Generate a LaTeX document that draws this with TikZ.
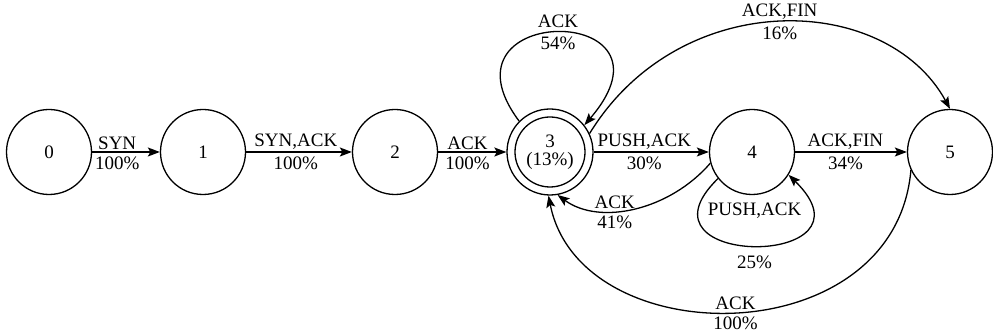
\documentclass[tikz,border=0pt]{standalone}
\usepackage{fontspec}
\setmainfont{Liberation Serif}
\usetikzlibrary{arrows.meta}
\begin{document}
\begin{tikzpicture}[x=1pt,y=1pt,
  state/.style={draw, circle, line width=1.3pt, minimum size=85pt, inner sep=0pt,
    font=\fontsize{19}{18}\selectfont, align=center},
  tr/.style={line width=1.3pt, -{Stealth[length=12pt,width=9pt,inset=2.5pt]}},
  lab/.style={font=\fontsize{19}{19}\selectfont},
  labA/.style={lab, above, inner sep=1.5pt},
  labB/.style={lab, below, inner sep=4pt},
]
\useasboundingbox (0,0) rectangle (993,336);
\node[state] (n0) at (49,184) {0};
\node[state] (n1) at (203,184) {1};
\node[state] (n2) at (395,184) {2};
\node[state, minimum size=86pt] (n3) at (550,184) {3\\(13\%)};
\node[draw, circle, line width=1.3pt, minimum size=70pt, inner sep=0pt] (n3in) at (n3.center) {};
\node[state] (n4) at (752,184) {4};
\node[state] (n5) at (950,184) {5};

\draw[tr] (n0) -- node[labA, pos=.37]{SYN} node[labB, pos=.37]{100\%} (n1);
\draw[tr] (n1) -- node[labA, pos=.47]{SYN,ACK} node[labB, pos=.47]{100\%} (n2);
\draw[tr] (n2) -- node[labA, pos=.43]{ACK} node[labB, pos=.43]{100\%} (n3);
\draw[tr] (n3) -- node[labA, pos=.44]{PUSH,ACK} node[labB, pos=.44]{30\%} (n4);
\draw[tr] (n4) -- node[labA, pos=.45]{ACK,FIN} node[labB, pos=.45]{34\%} (n5);

% self loop on 3
\draw[tr] (n3.135) .. controls (430,334) and (690,334) .. node[labA, inner sep=4pt]{ACK} node[labB]{54\%} (n3.38);
% 4 -> 3
\draw[tr] (n4.195) .. controls (670,126) and (600,110) .. node[labA, pos=.62]{ACK} node[labB, pos=.62]{41\%} (n3.-80);
% self loop on 4
\draw[tr] (n4.218) .. controls (625,67) and (885,67) .. node[lab, above=24pt]{PUSH,ACK} node[labB, below=5pt]{25\%} (n4.-32);
% 3 -> 5 top arc
\draw[tr] (n3.25) .. controls (680,350) and (886,344) .. node[labA]{ACK,FIN} node[labB]{16\%} (n5.90);
% 5 -> 3 bottom arc
\draw[tr] (n5.205) .. controls (895,-19) and (580,-19) .. node[labA]{ACK} node[labB]{100\%} (n3.-92);
\end{tikzpicture}
\end{document}
